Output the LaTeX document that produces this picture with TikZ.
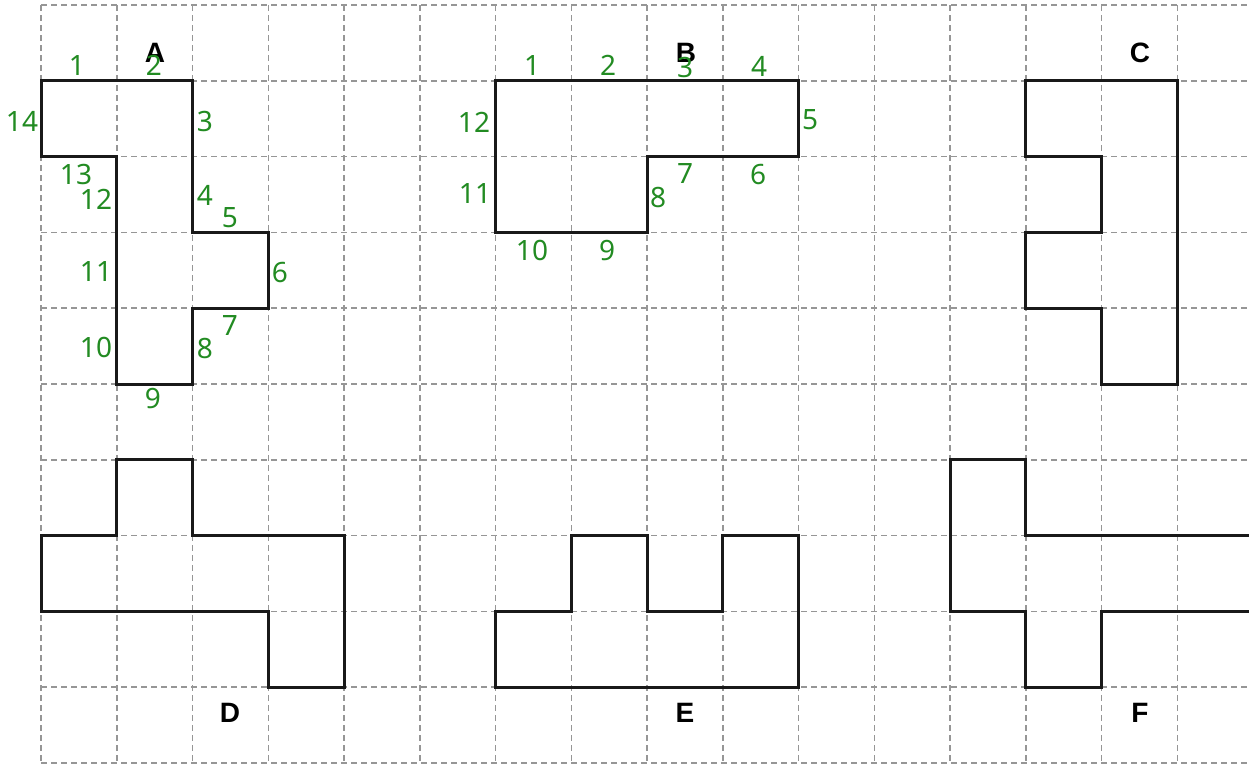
\documentclass[tikz,border=0pt]{standalone}
\usepackage{fontspec}
\setsansfont{Liberation Sans}
\newfontfamily\gfont{Noto Sans}
\definecolor{numgreen}{RGB}{34,139,34}
\definecolor{gridgray}{RGB}{150,150,150}
\tikzset{
  gridline/.style={draw=gridgray, line width=1.5pt, dash pattern=on 6pt off 4pt},
  shapeline/.style={draw=black!90, line width=3pt, line join=miter},
  num/.style={text=numgreen, font=\gfont\fontsize{28}{32}\selectfont, inner sep=0pt},
  lett/.style={text=black, font=\sffamily\bfseries\fontsize{28}{30}\selectfont, inner sep=0pt}
}
\begin{document}
\begin{tikzpicture}[x=1pt,y=-1pt]
\useasboundingbox (0,0) rectangle (1249,764);
\clip (0,0) rectangle (1249,764);
\begin{scope}[shift={(41,5)}, x=75.75pt, y=-75.8pt]
  % grid
  \foreach \i in {0,...,15} \draw[gridline] (\i,0) -- (\i,10);
  \foreach \j in {0,...,10} \draw[gridline] (0,\j) -- (16.5,\j);
  % shapes
  \draw[shapeline] (0,1) -- (2,1) -- (2,3) -- (3,3) -- (3,4) -- (2,4) -- (2,5) -- (1,5) -- (1,2) -- (0,2) -- cycle;
  \draw[shapeline] (6,1) -- (10,1) -- (10,2) -- (8,2) -- (8,3) -- (6,3) -- cycle;
  \draw[shapeline] (13,1) -- (15,1) -- (15,5) -- (14,5) -- (14,4) -- (13,4) -- (13,3) -- (14,3) -- (14,2) -- (13,2) -- cycle;
  \draw[shapeline] (1,6) -- (2,6) -- (2,7) -- (4,7) -- (4,9) -- (3,9) -- (3,8) -- (0,8) -- (0,7) -- (1,7) -- cycle;
  \draw[shapeline] (6,8) -- (7,8) -- (7,7) -- (8,7) -- (8,8) -- (9,8) -- (9,7) -- (10,7) -- (10,9) -- (6,9) -- cycle;
  \draw[shapeline] (12,6) -- (13,6) -- (13,7) -- (17,7) -- (17,8) -- (14,8) -- (14,9) -- (13,9) -- (13,8) -- (12,8) -- cycle;
\end{scope}
% shape letters
\node[lett] (lA) at (155,53) {A};
\node[lett] (lB) at (686,53) {B};
\node[lett] (lC) at (1140,53) {C};
\node[lett] (lD) at (230,713) {D};
\node[lett] (lE) at (685,713) {E};
\node[lett] (lF) at (1140,713) {F};
% numbers for A
\node[num] (a1) at (77,65) {1};
\node[num] (a2) at (154,65) {2};
\node[num] (a3) at (205,121) {3};
\node[num] (a4) at (205,195) {4};
\node[num] (a5) at (230,218) {5};
\node[num] (a6) at (280,272) {6};
\node[num] (a7) at (230,325) {7};
\node[num] (a8) at (205,348) {8};
\node[num] (a9) at (153,398) {9};
\node[num] (a10) at (96,347) {10};
\node[num] (a11) at (96,271) {11};
\node[num] (a12) at (96,199) {12};
\node[num] (a13) at (76,174) {13};
\node[num] (a14) at (22,121) {14};
% numbers for B
\node[num] (b1) at (532,65) {1};
\node[num] (b2) at (608,65) {2};
\node[num] (b3) at (685,67) {3};
\node[num] (b4) at (759,66) {4};
\node[num] (b5) at (810,120) {5};
\node[num] (b6) at (758,174) {6};
\node[num] (b7) at (685,173) {7};
\node[num] (b8) at (658,197) {8};
\node[num] (b9) at (607,250) {9};
\node[num] (b10) at (532,250) {10};
\node[num] (b11) at (475,193) {11};
\node[num] (b12) at (474,122) {12};
\end{tikzpicture}
\end{document}
